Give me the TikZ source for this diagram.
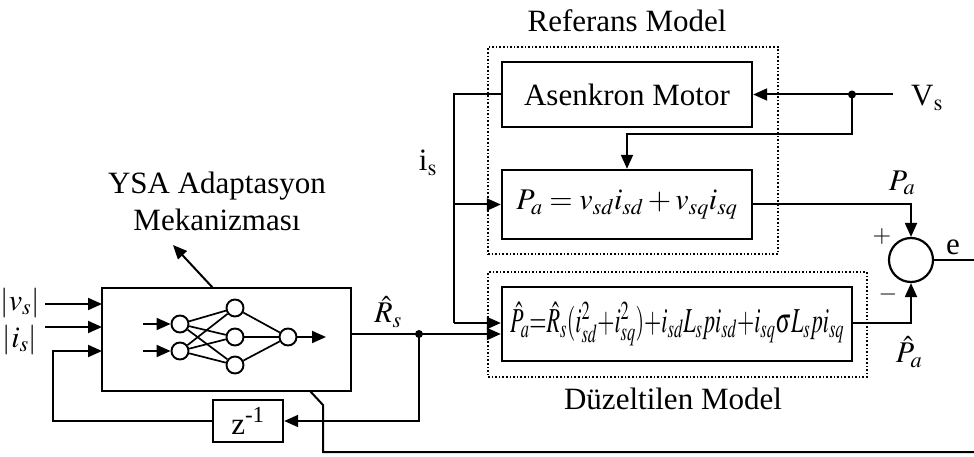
\documentclass[tikz,border=0pt]{standalone}
\usepackage{mathptmx}
\usepackage{fontspec}
\setmainfont{Liberation Serif}
\usepackage{graphicx}
\usetikzlibrary{arrows.meta,calc}
\begin{document}
\begin{tikzpicture}[x=1pt,y=-1pt,
  blk/.style={draw,line width=2.4pt,inner sep=0pt},
  dbox/.style={draw,dotted,line width=1.6pt,inner sep=0pt},
  ln/.style={line width=2pt},
  arr/.style={ln,-{Triangle[length=14pt,width=12pt]}},
  txt/.style={font=\fontsize{31}{36}\selectfont,inner sep=0pt},
  mth/.style={font=\fontsize{30}{34}\selectfont,inner sep=0pt},
  nn/.style={circle,draw,line width=1.9pt,minimum size=17pt,inner sep=0pt},
  dot/.style={circle,fill,inner sep=0pt,minimum size=8pt}]
\useasboundingbox (0,0) rectangle (974,457);
\fill[white] (0,0) rectangle (974,457);

% ---------- Referans Model ----------
\node[txt] (reflbl) at (627,21) {Referans Model};
\node[dbox,minimum width=290pt,minimum height=207pt] (refbox) at (633,150.5) {};
\node[blk,txt,minimum width=250pt,minimum height=65pt] (am) at (627,94.5) {Asenkron Motor};
\node[blk,mth,minimum width=250pt,minimum height=69pt] (pa) at (627,204.5)
  {$P_a = v_{sd}i_{sd} + v_{sq}i_{sq}$};

% ---------- Duzeltilen Model ----------
\node[dbox,minimum width=379pt,minimum height=105pt] (corbox) at (677.5,324.5) {};
\node[blk,minimum width=350pt,minimum height=74pt,font=\fontsize{35}{40}\selectfont,inner sep=0pt] (cm) at (677,324)
  {\resizebox{334pt}{\height}{$\hat P_a{=}\hat R_s(i_{sd}^2{+}i_{sq}^2){+}i_{sd}L_s p i_{sd}{+}i_{sq}\sigma L_s p i_{sq}$}};
\node[txt] (corlbl) at (673,399) {Düzeltilen Model};

% ---------- V_s ----------
\node[txt,anchor=west] (vs) at (911,98) {V$_{\mathrm{s}}$};
\coordinate (vsend) at (893,94.5);
\node[dot] (vsdot) at (852,94.5) {};
\coordinate (vsturn) at (852,134);
\draw[arr] (vsend) -- (am.east);
\draw[arr] (vsdot.center) -- (vsturn) -| (pa.north);

% ---------- i_s ----------
\coordinate (istop) at (454,94.5);
\coordinate (ismid) at (454,204.5);
\coordinate (isbot) at (454,323);
\draw[ln] (am.west) -- (istop) -- (isbot);
\draw[arr] (ismid) -- (pa.west);
\draw[arr] (isbot) -- ($(cm.west)+(0,-1)$);
\node[txt] (islbl) at (428,163) {i$_{\mathrm{s}}$};

% ---------- summing junction ----------
\node[circle,draw,line width=2.2pt,minimum size=44pt,inner sep=0pt] (sum) at (911,260) {};
\draw[arr] (pa.east) -| (sum.north);
\draw[arr] ($(cm.east)+(0,-1)$) -| (sum.south);
\node[mth] (palbl) at (902,183) {$P_a$};
\node[font=\fontsize{24}{28}\selectfont,inner sep=0pt] (plus) at (882,237) {$+$};
\node[font=\fontsize{24}{28}\selectfont,inner sep=0pt] (minus) at (888,294) {$-$};
\node[mth] (pahat) at (909,352) {$\hat P_a$};
\node[txt] (elbl) at (953,247) {e};
\coordinate (eend) at (974,260);
\draw[ln] (sum.east) -- (eend);

% ---------- ANN block ----------
\node[blk,minimum width=249pt,minimum height=103pt] (ann) at (226.5,339.5) {};
\node[txt] (ysa1) at (217,186) {YSA Adaptasyon};
\node[txt] (ysa2) at (217,220) {Mekanizması};
\coordinate (annarr) at (213,288);
\coordinate (annlbl) at (173,245);
\draw[arr] (annarr) -- (annlbl);

\coordinate (v0) at (45,304);  \coordinate (v1) at (102,304);
\coordinate (c0) at (45,327);  \coordinate (c1) at (102,327);
\coordinate (f1) at (102,351); \coordinate (fx) at (53,351);
\draw[arr] (v0) -- (v1);
\draw[arr] (c0) -- (c1);
\node[mth] (vlbl) at (20,303) {$|v_s|$};
\node[mth] (ilbl) at (20,340) {$|i_s|$};

% neural network
\node[nn] (i1) at (180,324) {};
\node[nn] (i2) at (180,351) {};
\node[nn] (h1) at (235,308) {};
\node[nn] (h2) at (235,337) {};
\node[nn] (h3) at (235,365) {};
\node[nn] (o)  at (288,337) {};
\foreach \a in {i1,i2}{\foreach \b in {h1,h2,h3}{\draw[line width=1.7pt] (\a) -- (\b);}}
\foreach \b in {h1,h2,h3}{\draw[line width=1.7pt] (\b) -- (o);}
\coordinate (ni1) at (143,324);
\coordinate (ni2) at (143,351);
\coordinate (no) at (326,337);
\draw[arr] (ni1) -- (i1);
\draw[arr] (ni2) -- (i2);
\draw[arr] (o) -- (no);

% ---------- z^-1 feedback ----------
\node[blk,txt,minimum width=70pt,minimum height=42pt] (zz) at (248,421) {z\textsuperscript{-1}};
\draw[arr] (zz.west) -| (fx) -- (f1);

% ---------- R_s estimate ----------
\node[dot] (rdot) at (419,334) {};
\draw[arr] (ann.east |- rdot) -- ($(cm.west)+(0,10)$);
\draw[arr] (rdot.center) |- (zz.east);
\node[mth] (rlbl) at (388,312) {$\hat R_s$};

% ---------- bottom line ----------
\coordinate (b0) at (310,391);
\coordinate (b1) at (323,405);
\coordinate (b2) at (323,452);
\coordinate (b3) at (974,452);
\draw[ln] (b0) -- (b1) -- (b2) -- (b3);
\end{tikzpicture}
\end{document}
